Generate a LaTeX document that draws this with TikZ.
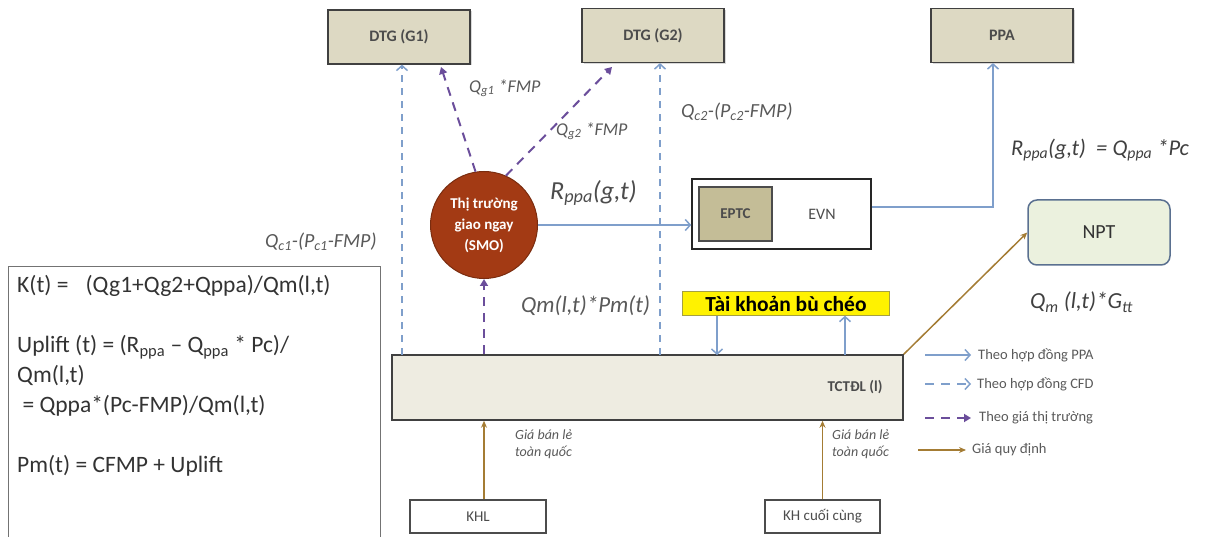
\documentclass[tikz,border=0pt]{standalone}
\usepackage{fontspec}
\setmainfont{Carlito}
\usetikzlibrary{arrows.meta,shadows,calc}
\definecolor{lblue}{HTML}{7F9FCB}
\definecolor{purp}{HTML}{6B4E9B}
\definecolor{brownl}{HTML}{A47C34}
\definecolor{beige}{HTML}{DDD9C3}
\definecolor{tanf}{HTML}{C4BD97}
\definecolor{pale}{HTML}{EEECE1}
\definecolor{smoc}{HTML}{A33A14}
\definecolor{nptfill}{HTML}{EBF1DE}
\definecolor{nptline}{HTML}{5A7090}
\definecolor{txt}{HTML}{595959}
\tikzset{
  genbox/.style={draw=black!75, line width=1.2pt, fill=beige, minimum width=142, minimum height=54,
    font=\fontsize{16}{18}\selectfont\bfseries, text=black!70,
    drop shadow={shadow xshift=1.5pt, shadow yshift=-1.5pt, opacity=0.3}},
  smallbox/.style={draw=black!70, line width=1.2pt, fill=white, minimum height=33,
    font=\fontsize{15}{17}\selectfont, text=black!70},
  ppaline/.style={draw=lblue, line width=1.5pt, -{Straight Barb[length=5pt,width=11pt,line width=1.5pt]}},
  cfdline/.style={draw=lblue, line width=1.5pt, dash pattern=on 7pt off 6pt, -{Straight Barb[length=5pt,width=11pt,line width=1.5pt]}},
  mkt/.style={draw=purp, line width=2pt, dash pattern=on 9pt off 7pt, -{Triangle[length=7pt,width=8pt]}},
  reg/.style={draw=brownl, line width=1.5pt, -{Stealth[length=7pt,width=6pt]}},
  lab/.style={font=\fontsize{18}{20}\selectfont\itshape, text=txt, inner sep=0pt},
  leg/.style={font=\fontsize{14.5}{16}\selectfont, text=txt, anchor=west, inner sep=0pt},
}
\begin{document}
\begin{tikzpicture}[x=1pt,y=-1pt]
\useasboundingbox (0,0) rectangle (1227,537);
% top boxes
\node[genbox] (g1) at (399,37) {DTG (G1)};
\node[genbox] (g2) at (653,35.5) {DTG (G2)};
\node[genbox] (ppa) at (1002,35.5) {PPA};
% SMO
\node[circle, minimum size=107, inner sep=0pt, fill=smoc, draw=smoc!75!black, line width=1pt, text=white,
  font=\fontsize{15}{21}\selectfont\bfseries, align=center] (smo) at (484,225) {Thị trường\\giao ngay\\(SMO)};
% EVN
\node[draw=black!85, line width=1.5pt, fill=white, minimum width=179, minimum height=70, inner sep=0pt] (evn) at (781.5,214) {};
\node[draw=black!70, line width=1.2pt, fill=tanf, minimum width=73, minimum height=54,
  font=\fontsize{15}{17}\selectfont\bfseries, text=black!70] (eptc) at (735.5,214) {EPTC};
\node[font=\fontsize{16}{18}\selectfont, text=black!70] (evnt) at (822,214) {EVN};
% NPT
\node[draw=nptline, line width=1.5pt, fill=nptfill, rounded corners=9, minimum width=142, minimum height=65,
  font=\fontsize{20}{22}\selectfont, text=black!80] (npt) at (1099,232.5) {NPT};
% Tai khoan
\node[fill=yellow, draw=yellow!60!black, line width=0.4pt, minimum width=207, minimum height=24, inner sep=0pt,
  font=\fontsize{21.5}{22}\selectfont\bfseries] (tk) at (786,303.5) {Tài khoản bù chéo};
% TCTDL
\node[draw=black!75, line width=1.5pt, fill=pale, minimum width=511, minimum height=65] (tct) at (647.5,387.5) {};
\node[font=\fontsize{15}{17}\selectfont\bfseries, text=black!70] (tctt) at (855,387) {TCTĐL (l)};
% bottom boxes
\node[smallbox, minimum width=136] (khl) at (478,516.5) {KHL};
\node[smallbox, minimum width=115] (khc) at (822.5,516.5) {KH cuối cùng};
% formula box
\draw[draw=black!55, line width=1pt] (8,540) -- (8,267) -- (380,267) -- (380,540);
\node[anchor=north west, align=left, inner sep=0pt, text=black!80,
  font=\fontsize{23.5}{30}\selectfont] (form) at (17,275)
  {K(t) =\enspace\ (Qg1+Qg2+Qppa)/Qm(l,t)\\[30pt]
   Uplift (t) = (R\textsubscript{ppa} – Q\textsubscript{ppa} * Pc)/\\
   Qm(l,t)\\
   \ = Qppa*(Pc-FMP)/Qm(l,t)\\[30pt]
   Pm(t) = CFMP + Uplift};
% CFD dashed
\coordinate (c1) at (402,355);
\coordinate (c2) at (660,355);
\draw[cfdline] (c1) -- (c1 |- g1.south);
\draw[cfdline] (c2) -- (c2 |- g2.south);
% market
\coordinate (g1in) at (441,67);
\coordinate (g2in) at (612,67);
\draw[mkt] (smo.99) -- (g1in);
\draw[mkt] (smo.66) -- (g2in);
\draw[mkt] (smo.south |- tct.north) -- (smo.south);
% PPA flows
\draw[ppaline] (smo.east) -- (smo.east -| evn.west);
\coordinate (ppain) at ([xshift=-9pt]ppa.south);
\draw[draw=lblue, line width=1.5pt, -{Straight Barb[length=5pt,width=11pt,line width=1.5pt]}]
  ([yshift=7pt]evn.east) -- ([yshift=7pt]evn.east -| ppain) -- (ppain);
\coordinate (tkd) at (717,355);
\coordinate (tku) at (845,355);
\draw[ppaline] (tkd |- tk.south) -- (tkd);
\draw[ppaline] (tku) -- (tku |- tk.south);
% regulated
\draw[reg] (tct.north east) -- (npt.west);
\draw[reg] ([xshift=6pt]khl.north) -- ([xshift=6pt]khl.north |- tct.south);
\draw[reg] (khc.north) -- (khc.north |- tct.south);
% labels
\node[lab, anchor=west] (lq1) at (469,88) {Q\textsubscript{g1} *FMP};
\node[lab, anchor=west] (lq2) at (556,131) {Q\textsubscript{g2} *FMP};
\node[lab, anchor=west, font=\fontsize{20}{22}\selectfont\itshape] (lc2) at (681,112) {Q\textsubscript{c2}-(P\textsubscript{c2}-FMP)};
\node[lab, anchor=west, font=\fontsize{20}{22}\selectfont\itshape] (lc1) at (265,242) {Q\textsubscript{c1}-(P\textsubscript{c1}-FMP)};
\node[lab, anchor=west, font=\fontsize{26}{28}\selectfont\itshape, text=black!70] (lr) at (550,193) {R\textsubscript{ppa}(g,t)};
\node[lab, anchor=west, font=\fontsize{22.5}{24}\selectfont\itshape, text=black!75] (lrp) at (1011,150) {R\textsubscript{ppa}(g,t)\ \ = Q\textsubscript{ppa} *Pc};
\node[lab, anchor=west, font=\fontsize{23}{25}\selectfont\itshape] (lqm) at (521,306) {Qm(l,t)*Pm(t)};
\node[lab, anchor=west, font=\fontsize{23}{25}\selectfont\itshape, text=black!75] (lgt) at (1030,302) {Q\textsubscript{m} (l,t)*G\textsubscript{tt}};
\node[lab, anchor=north west, align=left, font=\fontsize{14}{17}\selectfont\itshape] (gb1) at (515,430) {Giá bán lẻ\\toàn quốc};
\node[lab, anchor=north west, align=left, font=\fontsize{14}{17}\selectfont\itshape] (gb2) at (832,430) {Giá bán lẻ\\toàn quốc};
% legend
\coordinate (la1) at (925,355); \coordinate (lb1) at (971,355);
\coordinate (la2) at (925,384); \coordinate (lb2) at (971,384);
\coordinate (la3) at (925,418); \coordinate (lb3) at (971,418);
\coordinate (la4) at (918,450); \coordinate (lb4) at (966,450);
\draw[ppaline] (la1) -- (lb1);
\draw[cfdline, dash pattern=on 9pt off 7pt] (la2) -- (lb2);
\draw[mkt] (la3) -- (lb3);
\draw[reg] (la4) -- (lb4);
\node[leg] (t1) at (978,355) {Theo hợp đồng PPA};
\node[leg] (t2) at (977,384) {Theo hợp đồng CFD};
\node[leg] (t3) at (979,418) {Theo giá thị trường};
\node[leg] (t4) at (972,450) {Giá quy định};
\end{tikzpicture}
\end{document}
